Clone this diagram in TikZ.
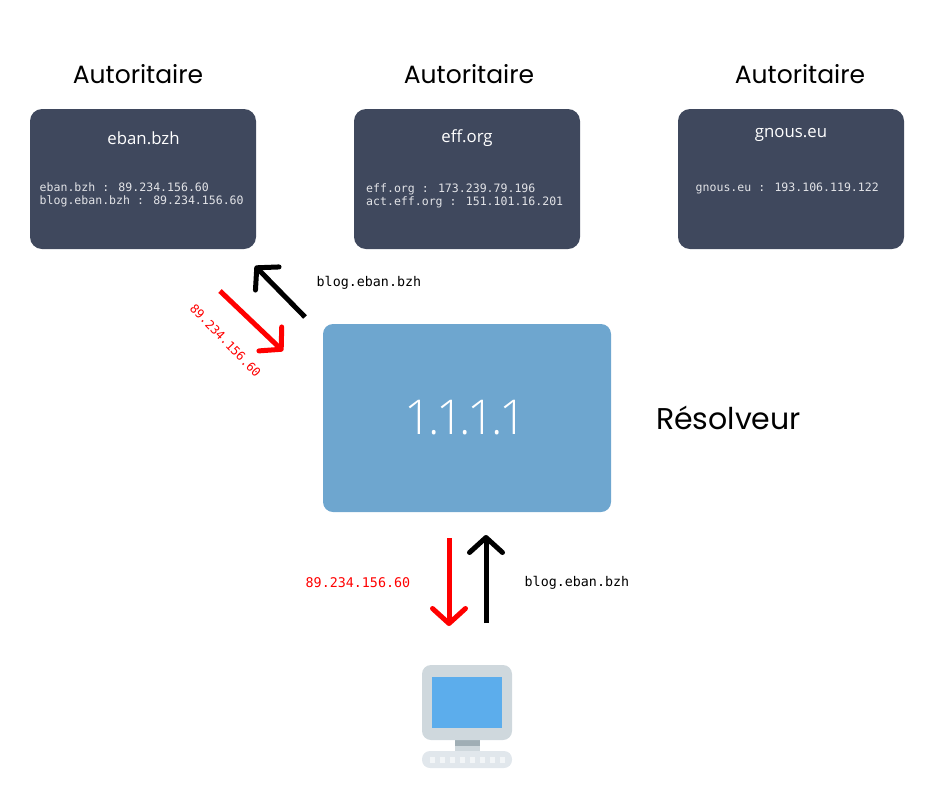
\documentclass[tikz,border=0pt]{standalone}
\usepackage{fontspec}
\usetikzlibrary{arrows.meta}
\setmainfont{Open Sans}
\newfontfamily\titlefont{Poppins}
\newfontfamily\monofont{DejaVu Sans Mono}
\newfontfamily\lightfont[LetterSpace=-7.5]{Open Sans Light}
\definecolor{slatebox}{HTML}{3F485D}
\definecolor{bluebox}{HTML}{6EA6CF}
\definecolor{screenblue}{HTML}{5CADEC}
\definecolor{pcgrey}{HTML}{CFD8DD}
\definecolor{pclight}{HTML}{E1E7EC}
\definecolor{pcdark}{HTML}{A0AEB5}
\definecolor{keycol}{HTML}{F2F5F7}
\definecolor{redtxt}{HTML}{FF0000}
\tikzset{
  x=1pt,y=-1pt,
  autbox/.style={fill=slatebox,rounded corners=12pt,minimum width=226pt,minimum height=140pt,inner sep=0pt,draw=none},
  heading/.style={font=\titlefont\fontsize{25}{28}\selectfont,text=black,inner sep=0pt},
  domainname/.style={font=\fontsize{16.8}{19}\selectfont,text=white,inner sep=0pt},
  records/.style={font=\monofont\fontsize{11.55}{13.5}\selectfont,text=white!85!slatebox,inner sep=0pt,align=left},
  msg/.style={font=\monofont\fontsize{13.35}{16}\selectfont,inner sep=0pt},
  flow/.style={line width=5pt,-{Straight Barb[length=15pt,width=33pt,round,line width=5pt]}},
}
\begin{document}
\begin{tikzpicture}
\useasboundingbox (0,0) rectangle (935,804);
\node[heading] (h1) at (138,74) {Autoritaire};
\node[heading] (h2) at (469,74) {Autoritaire};
\node[heading] (h3) at (800,74) {Autoritaire};
\node[autbox] (b1) at (143,179) {};
\node[autbox] (b2) at (467,179) {};
\node[autbox] (b3) at (791,179) {};
\node[domainname] (d1) at (143.5,138) {eban.bzh};
\node[domainname] (d2) at (467,138.5) {eff.org};
\node[domainname] (d3) at (791,134.5) {gnous.eu};
\node[records,anchor=west] (r1) at (39.5,195) {eban.bzh : 89.234.156.60\\blog.eban.bzh : 89.234.156.60};
\node[records,anchor=west] (r2) at (366,196) {eff.org : 173.239.79.196\\act.eff.org : 151.101.16.201};
\node[records,anchor=west] (r3) at (695.5,188) {gnous.eu : 193.106.119.122};
\node[fill=bluebox,rounded corners=10pt,minimum width=288pt,minimum height=188pt,inner sep=0pt] (res) at (467,418) {};
\node[font=\lightfont\fontsize{48}{52}\selectfont,text=white,inner sep=0pt] (ip) at (465.5,418) {1.1.1.1};
\node[heading,font=\titlefont\fontsize{30}{32}\selectfont] (rl) at (728.5,418) {Résolveur};
% connectors
\coordinate (a1s) at (305,317); \coordinate (a1e) at (255,266);
\coordinate (a2s) at (220,291); \coordinate (a2e) at (283,351);
\coordinate (a3s) at (449,538); \coordinate (a3e) at (449,626);
\coordinate (a4s) at (486,623); \coordinate (a4e) at (486,535);
\draw[flow,black] (a1s) -- (a1e);
\draw[flow,red] (a2s) -- (a2e);
\draw[flow,red] (a3s) -- (a3e);
\draw[flow,black] (a4s) -- (a4e);
\node[msg,anchor=west] (m1) at (316.5,283) {blog.eban.bzh};
\node[msg,anchor=west] (m2) at (524.5,583) {blog.eban.bzh};
\node[msg,anchor=west,text=redtxt] (m3) at (305.5,583) {89.234.156.60};
\node[msg,text=redtxt,font=\monofont\fontsize{12.2}{15}\selectfont,rotate=-46] (m4) at (225.5,340.5) {89.234.156.60};
% computer
\fill[pcgrey] (454.5,735) rectangle (479.5,752);
\fill[pcdark] (454.5,740) rectangle (479.5,746);
\fill[pcgrey,rounded corners=9pt] (422,665) rectangle (512,740);
\fill[screenblue] (432,677) rectangle (502,728);
\fill[pclight,rounded corners=8pt] (422,751) rectangle (512,768);
\foreach \k in {0,...,7} \fill[keycol] (429.5+\k*10,757) rectangle ++(5,6);
\end{tikzpicture}
\end{document}
